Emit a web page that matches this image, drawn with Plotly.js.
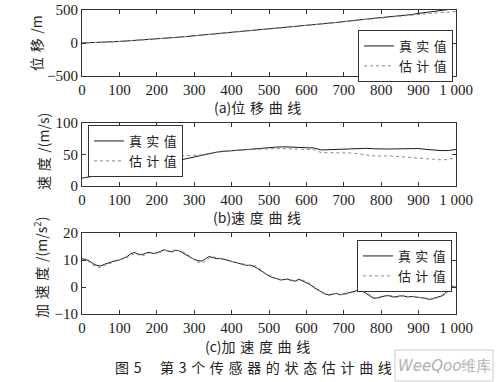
<!DOCTYPE html>
<html>
<head>
<meta charset="utf-8">
<script src="https://cdn.plot.ly/plotly-3.0.1.min.js"></script>
<style>html,body{margin:0;padding:0;background:#fff;}#chart{width:499px;height:382px;}</style>
</head>
<body>
<div id="chart"></div>
<script>
// ---- data ----
const steps20 = [0,20,40,60,80,100,120,140,160,180,200,220,240,260,280,300,320,340,360,380,400,420,440,460,480,500,520,540,560,580,600,620,640,660,680,700,720,740,760,780,800,820,840,860,880,900,920,940,960,980,1000];
const steps10 = [0,10,20,30,40,50,60,70,80,90,100,110,120,130,140,150,160,170,180,190,200,210,220,230,240,250,260,270,280,290,300,310,320,330,340,350,360,370,380,390,400,410,420,430,440,450,460,470,480,490,500,510,520,530,540,550,560,570,580,590,600,610,620,630,640,650,660,670,680,690,700,710,720,730,740,750,760,770,780,790,800,810,820,830,840,850,860,870,880,890,900,910,920,930,940,950,960,970,980,990,1000];

const posTrue = [0,3,8,12,18,24,31,38,46,53,60,69,79,89,99,109,121,131,141,151,160,171,181,191,200,210,222,234,246,258,270,280,290,300,311,321,336,349,362,374,385,395,404,414,430,448,466,482,496,508,520];
const posEst  = [0,2,7,13,17,23,30,39,45,52,61,68,78,88,100,108,120,132,140,150,161,170,180,190,201,209,221,233,245,257,269,279,289,299,309,319,333,346,358,370,380,390,400,408,418,430,442,452,461,470,478];

const velTrue = [12.5,14.8,17.5,18.6,18.3,19.2,22.0,25.5,29.0,30.5,33.0,35.5,38.5,41.5,43.5,45.5,48.3,51.6,53.8,55.0,56.2,57.0,58.0,58.8,59.8,61.3,61.8,62.2,61.6,61.2,61.5,60.3,57.2,57.8,58.4,59.2,59.8,59.3,59.8,59.1,58.4,58.7,58.9,59.3,59.8,59.5,58.1,56.9,56.2,56.3,58.0];
const velEst  = [13.0,15.5,18.0,19.5,20.5,21.5,24.0,27.5,31.0,34.5,38.0,42.0,45.5,47.5,47.8,48.0,49.5,52.0,54.0,55.5,56.5,57.0,57.5,58.2,58.8,59.8,59.5,59.3,59.0,58.6,58.3,57.5,53.0,52.5,52.0,52.6,52.4,50.5,49.0,47.8,47.4,48.2,47.0,46.3,45.5,44.8,43.8,42.5,41.5,42.2,45.0];

const accTrue = [10.5,10.2,9.6,8.6,8.0,7.8,8.4,8.9,9.3,9.8,10.0,10.6,11.2,12.3,12.8,12.2,12.0,12.5,12.9,12.4,12.6,13.2,13.8,13.3,13.1,13.6,13.4,12.6,11.8,11.0,10.2,9.8,9.6,10.4,11.3,10.9,10.5,10.6,10.2,9.9,9.6,9.1,8.8,8.3,8.0,8.1,7.6,6.8,5.8,4.8,4.1,3.5,3.2,2.6,2.8,2.9,2.4,2.2,2.9,2.3,1.8,0.9,-0.2,-1.1,-2.0,-2.6,-2.9,-2.7,-2.4,-2.9,-2.6,-2.3,-2.0,-1.6,-1.0,-1.5,-2.4,-3.3,-4.2,-4.0,-3.6,-3.3,-3.2,-3.7,-3.6,-3.3,-3.3,-3.7,-3.5,-3.6,-3.9,-4.0,-4.3,-4.6,-4.2,-3.9,-3.4,-2.4,-1.2,0.3,-0.3];
const accEst  = [10.3,10.0,9.2,8.1,7.4,7.2,7.9,8.6,9.0,9.5,9.9,10.3,10.9,11.6,12.4,12.0,11.4,12.0,12.6,12.5,12.3,12.9,13.4,13.5,12.9,13.3,13.6,13.0,12.2,11.3,10.0,9.2,8.9,9.5,10.6,11.2,10.8,10.4,10.4,10.1,9.5,9.3,8.6,8.6,8.2,7.8,8.0,7.3,6.2,5.0,4.4,3.7,3.0,2.9,2.5,3.1,2.7,2.0,2.6,2.6,2.0,1.2,0.2,-0.8,-1.7,-2.4,-3.1,-2.9,-2.2,-2.7,-2.8,-2.5,-2.1,-1.9,-1.3,-1.2,-2.0,-3.0,-3.9,-4.3,-3.9,-3.5,-3.0,-3.4,-3.9,-3.5,-3.1,-3.4,-3.8,-3.4,-3.7,-4.2,-4.1,-4.4,-4.5,-4.0,-3.6,-2.9,-1.6,0.6,0.2];

const xTickVals = [0,100,200,300,400,500,600,700,800,900,1000];
const xTickText = ['0','100','200','300','400','500','600','700','800','900','1 000'];
const sp = '\u2004';
const nameTrue = '真' + sp + '实' + sp + '值';
const nameEst = '估' + sp + '计' + sp + '值';
const caption = '图' + sp + '5' + '\u2003' + sp + ['第','3','个','传','感','器','的','状','态','估','计','曲','线'].join(sp);

// ---- styles ----
const cjk = 'Noto Sans CJK SC';
const serif = 'Liberation Serif, Times New Roman, serif';
const trueLine = {color:'#1a1a1a', width:1};
const estLine = {color:'#888', width:1, dash:'dot'};

const traces = [
  {x:steps20, y:posTrue, xaxis:'x', yaxis:'y', name:nameTrue, mode:'lines', line:trueLine, legend:'legend'},
  {x:steps20, y:posEst, xaxis:'x', yaxis:'y', name:nameEst, mode:'lines', line:estLine, legend:'legend'},
  {x:steps20, y:velTrue, xaxis:'x2', yaxis:'y2', name:nameTrue, mode:'lines', line:trueLine, legend:'legend2'},
  {x:steps20, y:velEst, xaxis:'x2', yaxis:'y2', name:nameEst, mode:'lines', line:estLine, legend:'legend2'},
  {x:steps10, y:accTrue, xaxis:'x3', yaxis:'y3', name:nameTrue, mode:'lines', line:trueLine, legend:'legend3'},
  {x:steps10, y:accEst, xaxis:'x3', yaxis:'y3', name:nameEst, mode:'lines', line:estLine, legend:'legend3'}
];

const xd = [82/499, 456/499];
function xa(anchor){
  return {domain:xd, anchor:anchor, range:[0,1000], tickmode:'array', tickvals:xTickVals, ticktext:xTickText,
    ticks:'inside', ticklen:4, tickcolor:'#333', showline:true, mirror:'ticks', linecolor:'#333', linewidth:1,
    showgrid:false, zeroline:false, tickfont:{family:serif, size:15, color:'#1a1a1a'}};
}
function ya(anchor, top, bottom, range, tv, tt){
  return {domain:[1-bottom/382, 1-top/382], anchor:anchor, range:range, tickmode:'array', tickvals:tv, ticktext:tt,
    ticks:'inside', ticklen:4, tickcolor:'#333', showline:true, mirror:'ticks', linecolor:'#333', linewidth:1,
    showgrid:false, zeroline:false, tickfont:{family:serif, size:15, color:'#1a1a1a'}};
}
const legBase = {bgcolor:'#fff', bordercolor:'#333', borderwidth:1, font:{family:cjk, size:13, color:'#222'},
  itemwidth:30, tracegroupgap:0};

function ann(text, x, y, size, angle, fam, color){
  return {text:text, x:x/499, y:1-y/382, xref:'paper', yref:'paper', xanchor:'center', yanchor:'middle',
    textangle:angle||0, showarrow:false, font:{family:fam||cjk, size:size, color:color||'#222'}};
}

const layout = {
  width:499, height:382, margin:{l:0, r:0, t:0, b:0}, paper_bgcolor:'#fff', plot_bgcolor:'#fff',
  showlegend:true,
  xaxis: xa('y'), yaxis: ya('x', 10, 76, [-500,500], [-500,0,500], ['−500','0','500']),
  xaxis2: xa('y2'), yaxis2: ya('x2', 123, 186, [0,100], [0,50,100], ['0','50','100']),
  xaxis3: xa('y3'), yaxis3: ya('x3', 233, 314, [-10,20], [-10,0,10,20], ['−10','0','10','20']),
  legend: Object.assign({}, legBase, {x:453/499, xanchor:'right', y:1-30/382, yanchor:'top'}),
  legend2: Object.assign({}, legBase, {x:88/499, xanchor:'left', y:1-125/382, yanchor:'top'}),
  legend3: Object.assign({}, legBase, {x:452/499, xanchor:'right', y:1-240/382, yanchor:'top'}),
  annotations: [
    ann('位' + sp + '移' + sp + '/m', 36, 43, 14, -90),
    ann('速' + sp + '度' + sp + '/(m/s)', 43, 152, 14, -90),
    ann('加' + sp + '速' + sp + '度' + sp + '/(m/s<sup>2</sup>)', 40, 268, 14, -90),
    ann('(a)位' + sp + '移' + sp + '曲' + sp + '线', 257, 107, 14),
    ann('(b)速' + sp + '度' + sp + '曲' + sp + '线', 257, 217, 14),
    ann('(c)加' + sp + '速' + sp + '度' + sp + '曲' + sp + '线', 257, 346, 14),
    ann(caption, 254, 367, 14),
    ann('<i>WeeQoo</i>维库', 444, 366, 15, 0, 'DejaVu Sans', '#b0b0b0')
  ],
  shapes: [
    {type:'rect', xref:'paper', yref:'paper', x0:395/499, x1:493/499, y0:1-381/382, y1:1-350/382, line:{color:'#ccc', width:1}, fillcolor:'rgba(0,0,0,0)'}
  ]
};

Plotly.newPlot('chart', traces, layout, {staticPlot:true, displayModeBar:false});
</script>
</body>
</html>
